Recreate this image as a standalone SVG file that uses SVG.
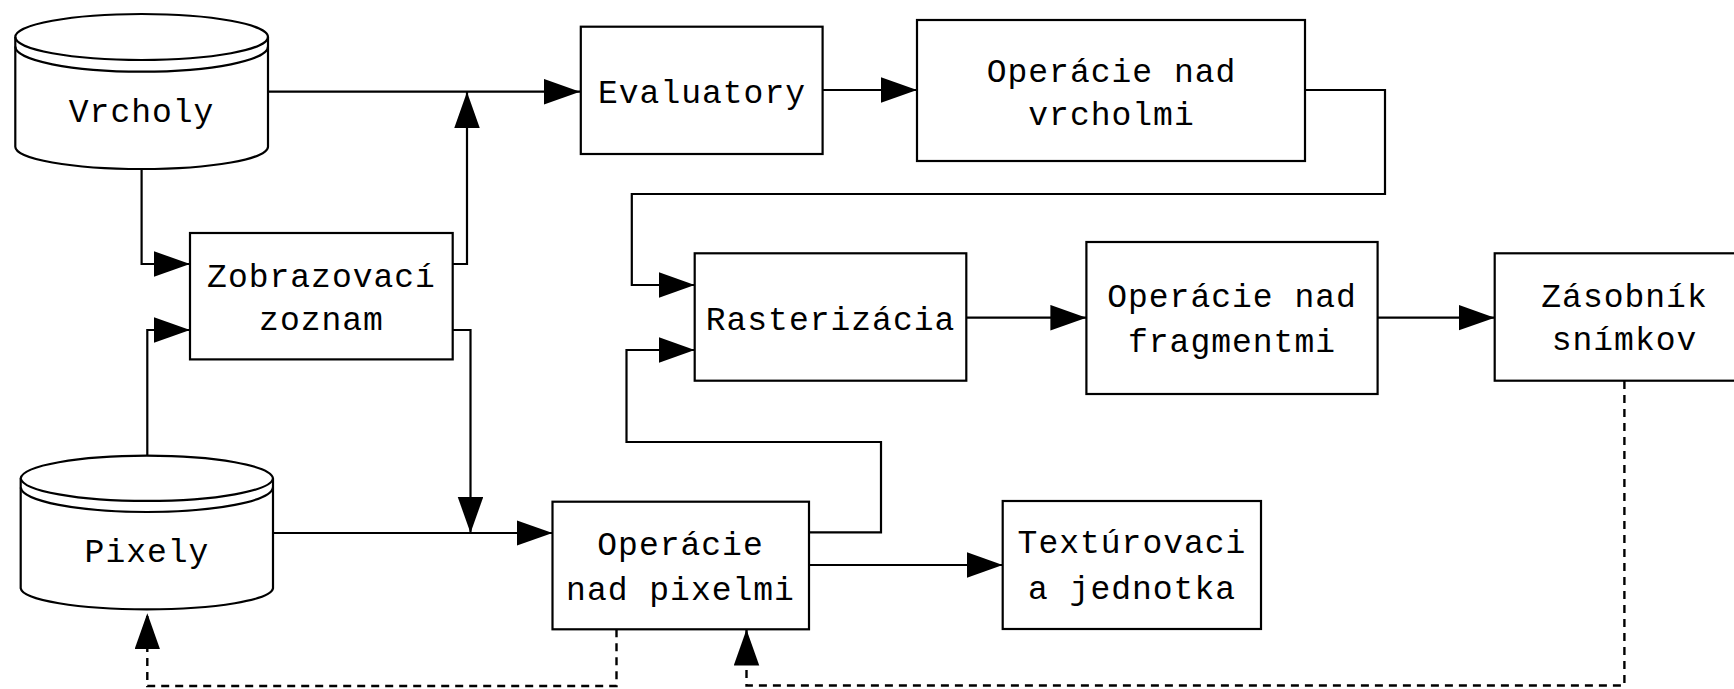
<svg xmlns="http://www.w3.org/2000/svg" width="1734" height="689" viewBox="0 0 1734 689">
  <style>
    .box { fill: #fff; stroke: #000; stroke-width: 2.2; }
    .db { fill: #fff; stroke: #000; stroke-width: 2.2; }
    .lbl { font-family: "Liberation Mono", "Courier New", monospace; font-size: 33px; letter-spacing: 1px; fill: #000; text-anchor: middle; }
    .wire { fill: none; stroke: #000; stroke-width: 2.2; }
    .dash { fill: none; stroke: #000; stroke-width: 2.4; stroke-dasharray: 8 6; }
  </style>
  <defs>
    <marker id="arrow" markerUnits="userSpaceOnUse" markerWidth="37" markerHeight="26" refX="36" refY="12.75" orient="auto">
      <path d="M0,0 L36,12.75 L0,25.5 z" fill="#000"/>
    </marker>
  </defs>
  <rect width="1734" height="689" fill="#fff"/>

  <g id="connectors">
    <path class="wire" d="M268,91.7 H580" marker-end="url(#arrow)"/>
    <path class="wire" d="M452.7,264 H467 V92" marker-end="url(#arrow)"/>
    <path class="wire" d="M141.6,169 V264 H190" marker-end="url(#arrow)"/>
    <path class="wire" d="M147.3,455 V330 H190" marker-end="url(#arrow)"/>
    <path class="wire" d="M452.7,330 H470.5 V533" marker-end="url(#arrow)"/>
    <path class="wire" d="M273,533 H552.5" marker-end="url(#arrow)"/>
    <path class="wire" d="M822.6,90 H917" marker-end="url(#arrow)"/>
    <path class="wire" d="M1305,90 H1385 V194 H631.8 V285 H694.7" marker-end="url(#arrow)"/>
    <path class="wire" d="M809,532.3 H881 V442 H626.5 V350 H694.7" marker-end="url(#arrow)"/>
    <path class="wire" d="M966.3,317.7 H1086.4" marker-end="url(#arrow)"/>
    <path class="wire" d="M1377.6,317.7 H1494.7" marker-end="url(#arrow)"/>
    <path class="wire" d="M809,565 H1002.7" marker-end="url(#arrow)"/>
    <path class="dash" d="M616.5,629.3 V686 H147.3 V613.3" marker-end="url(#arrow)"/>
    <path class="dash" d="M1624.4,381 V685.5 H746.5 V629.5" marker-end="url(#arrow)"/>
  </g>

  <g id="vrcholy">
    <path class="db" d="M15.3,37 A126.3,23 0 0 1 268,37 V146.7 A126.3,22.3 0 0 1 15.3,146.7 Z"/>
    <path class="wire" d="M15.3,37 A126.3,23 0 0 0 268,37"/>
    <path class="wire" d="M15.3,46.5 A126.3,25.2 0 0 0 268,46.5"/>
    <text class="lbl" x="141.6" y="121.7">Vrcholy</text>
  </g>

  <g id="pixely">
    <path class="db" d="M20.7,478.3 A126.2,23.3 0 0 1 273,478.3 V588.3 A126.2,21.7 0 0 1 20.7,588.3 Z"/>
    <path class="wire" d="M20.7,478.3 A126.2,23.3 0 0 0 273,478.3"/>
    <path class="wire" d="M20.7,487.5 A126.2,25.2 0 0 0 273,487.5"/>
    <text class="lbl" x="147" y="561.7">Pixely</text>
  </g>

  <g id="zobrazovaci-zoznam">
    <rect class="box" x="190" y="233" width="262.7" height="126.4"/>
    <text class="lbl" x="321.5" y="287">Zobrazovací</text>
    <text class="lbl" x="321.5" y="330">zoznam</text>
  </g>

  <g id="evaluatory">
    <rect class="box" x="580.8" y="26.7" width="241.8" height="127.3"/>
    <text class="lbl" x="702" y="103.3">Evaluatory</text>
  </g>

  <g id="operacie-vrcholy">
    <rect class="box" x="917" y="20" width="388" height="141"/>
    <text class="lbl" x="1111.5" y="81.7">Operácie nad</text>
    <text class="lbl" x="1111.5" y="125">vrcholmi</text>
  </g>

  <g id="rasterizacia">
    <rect class="box" x="694.7" y="253.3" width="271.6" height="127.4"/>
    <text class="lbl" x="830.5" y="330">Rasterizácia</text>
  </g>

  <g id="operacie-fragmenty">
    <rect class="box" x="1086.4" y="242" width="291.2" height="152"/>
    <text class="lbl" x="1232" y="306.7">Operácie nad</text>
    <text class="lbl" x="1232" y="351.7">fragmentmi</text>
  </g>

  <g id="zasobnik-snimkov">
    <rect class="box" x="1494.7" y="253.3" width="260" height="127.4"/>
    <text class="lbl" x="1624.5" y="306.7">Zásobník</text>
    <text class="lbl" x="1624.5" y="350">snímkov</text>
  </g>

  <g id="operacie-pixely">
    <rect class="box" x="552.5" y="501.7" width="256.5" height="127.6"/>
    <text class="lbl" x="680.5" y="555">Operácie</text>
    <text class="lbl" x="680.5" y="600">nad pixelmi</text>
  </g>

  <g id="texturovacia-jednotka">
    <rect class="box" x="1002.7" y="501" width="258.3" height="128"/>
    <text class="lbl" x="1132" y="553.3">Textúrovaci</text>
    <text class="lbl" x="1132" y="599.3">a jednotka</text>
  </g>
</svg>
